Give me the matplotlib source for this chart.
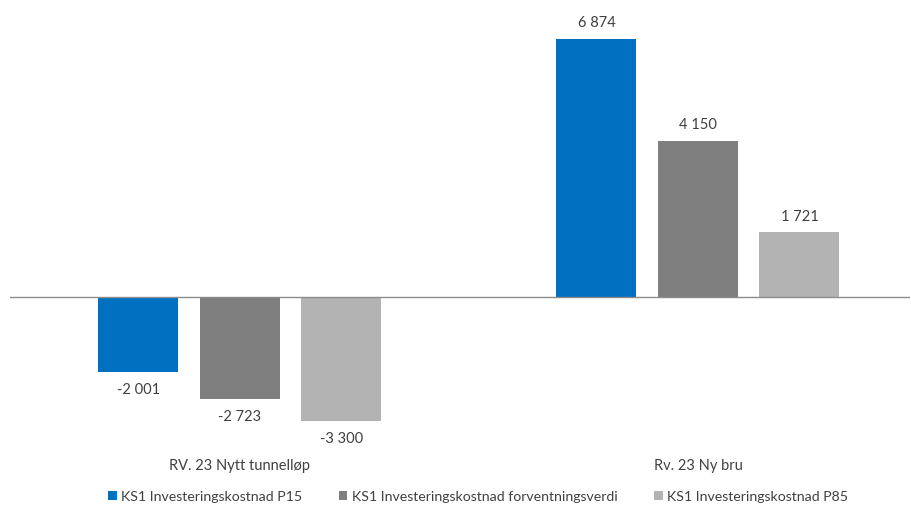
import matplotlib
matplotlib.use("Agg")
import matplotlib.pyplot as plt
import numpy as np

categories = ["RV. 23 Nytt tunnelløp", "Rv. 23 Ny bru"]
series_names = ["KS1 Investeringskostnad P15",
                "KS1 Investeringskostnad forventningsverdi",
                "KS1 Investeringskostnad P85"]
p15 = [-2001, 6874]
forventning = [-2723, 4150]
p85 = [-3300, 1721]
colors = ["#0070C0", "#7F7F7F", "#B3B3B3"]

plt.rcParams["font.family"] = ["Lato", "DejaVu Sans"]
text_color = "#404040"

W, H = 912, 506
fig = plt.figure(figsize=(W / 100, H / 100), dpi=100)
ax = fig.add_axes([10 / W, 1 - 441 / H, 900 / W, 440 / H])

x = np.arange(len(categories))
width = 0.1747
offset = 0.2216

for i, (vals, name, c) in enumerate(zip([p15, forventning, p85], series_names, colors)):
    pos = x + (i - 1) * offset
    bars = ax.bar(pos, vals, width=width, color=c, label=name, zorder=2)
    for b, v in zip(bars, vals):
        lbl = f"{v:,}".replace(",", " ")
        if v >= 0:
            ax.annotate(lbl, (b.get_x() + b.get_width() / 2, v), xytext=(0, 7),
                        textcoords="offset points", ha="center", va="bottom",
                        fontsize=10.5, color=text_color)
        else:
            ax.annotate(lbl, (b.get_x() + b.get_width() / 2, v), xytext=(0, -7),
                        textcoords="offset points", ha="center", va="top",
                        fontsize=10.5, color=text_color)

ax.axhline(0, color="#8C8C8C", linewidth=1, zorder=3)
ax.set_xlim(-0.502, 1.463)
ax.set_ylim(-3808, 7909)
for s in ax.spines.values():
    s.set_visible(False)
ax.set_yticks([])
ax.set_xticks([])

for xi, cat in zip(x, categories):
    fig.text((240 + 458 * xi) / W, 1 - 466 / H, cat, ha="center", va="center",
             fontsize=10.5, color=text_color)

handles, labels = ax.get_legend_handles_labels()
fig.legend(handles, labels, loc="center", bbox_to_anchor=(478 / W, 1 - 497 / H), ncol=3,
           frameon=False, fontsize=10.2, handlelength=0.6, handleheight=0.6,
           handletextpad=0.3, columnspacing=2.6, labelcolor=text_color)

fig.savefig("out.png", dpi=100)
